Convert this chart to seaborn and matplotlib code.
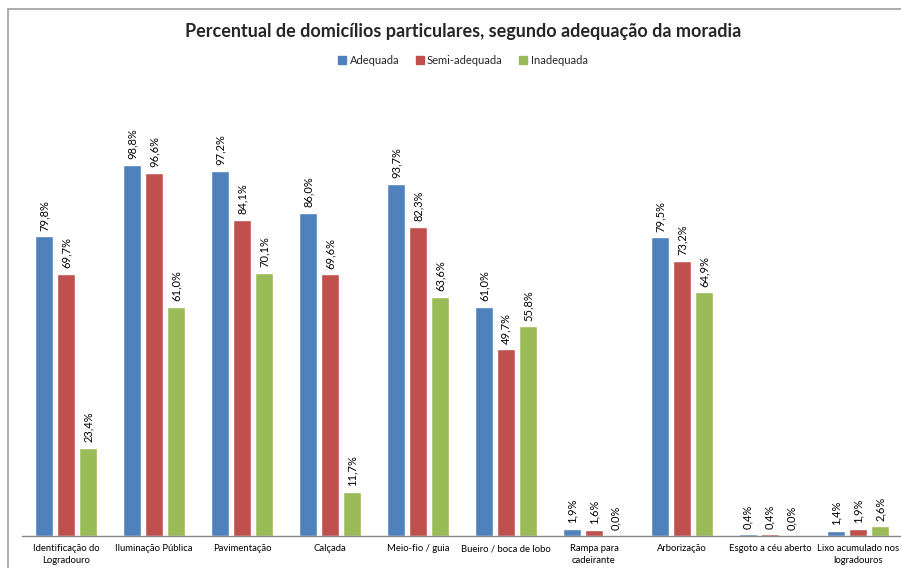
import matplotlib
matplotlib.use("Agg")
import matplotlib.pyplot as plt
import seaborn as sns
import pandas as pd
from matplotlib.patches import Rectangle

categories = ["Identificação do\nLogradouro", "Iluminação Pública", "Pavimentação", "Calçada",
              "Meio-fio / guia", "Bueiro / boca de lobo", "Rampa para\ncadeirante", "Arborização",
              "Esgoto a céu aberto", "Lixo acumulado nos\nlogradouros"]
series = ["Adequada", "Semi-adequada", "Inadequada"]
adequada = [79.8, 98.8, 97.2, 86.0, 93.7, 61.0, 1.9, 79.5, 0.4, 1.4]
semi_adequada = [69.7, 96.6, 84.1, 69.6, 82.3, 49.7, 1.6, 73.2, 0.4, 1.9]
inadequada = [23.4, 61.0, 70.1, 11.7, 63.6, 55.8, 0.0, 64.9, 0.0, 2.6]
colors = ["#4F81BD", "#C0504D", "#9BBB59"]

rows = []
for s, vals in zip(series, [adequada, semi_adequada, inadequada]):
    for c, v in zip(categories, vals):
        rows.append({"cat": c, "serie": s, "valor": v})
df = pd.DataFrame(rows)

sns.set_theme(style="white")
plt.rcParams["font.family"] = ["Lato", "DejaVu Sans"]

fig = plt.figure(figsize=(9.01, 5.68), dpi=100)
ax = fig.add_axes([22/901, 32/568, 880/901, 451/568])

sns.barplot(data=df, x="cat", y="valor", hue="serie", order=categories, hue_order=series,
            palette=colors, width=0.75, gap=0.18, saturation=1, ax=ax, legend=False)

for cont in ax.containers:
    labels = [f"{v:.1f}".replace(".", ",") + "%" for v in cont.datavalues]
    ax.bar_label(cont, labels=labels, rotation=90, padding=4, fontsize=8, color="#000000")

ax.set_ylim(0, 120)
ax.set_xlim(-0.5, 9.5)
ax.set_xlabel("")
ax.set_ylabel("")
ax.set_yticks([])
for sp in ["top", "right", "left"]:
    ax.spines[sp].set_visible(False)
ax.spines["bottom"].set_color("#878787")
ax.spines["bottom"].set_linewidth(1)
ax.tick_params(axis="x", length=0, pad=6, labelsize=6.8, colors="#000000")
for t in ax.get_xticklabels():
    t.set_linespacing(1.45)

fig.text(463/901, 1 - 31/568, "Percentual de domicílios particulares, segundo adequação da moradia",
         ha="center", va="center", fontsize=13, fontweight="bold")

# legend
handles = [Rectangle((0, 0), 1, 1, color=c) for c in colors]
fig.legend(handles, series, loc="center", bbox_to_anchor=(463/901, 1 - 60/568), ncol=3,
           frameon=False, fontsize=8, handlelength=0.7, handleheight=0.7, handletextpad=0.3,
           columnspacing=1.5)

# outer frame
fig.patches.append(Rectangle((8/901, -0.1), 1.2, 1 - 9/568 + 0.1, transform=fig.transFigure,
                             fill=False, edgecolor="#A0A0A0", linewidth=1.2))

fig.savefig("out.png", dpi=100)
